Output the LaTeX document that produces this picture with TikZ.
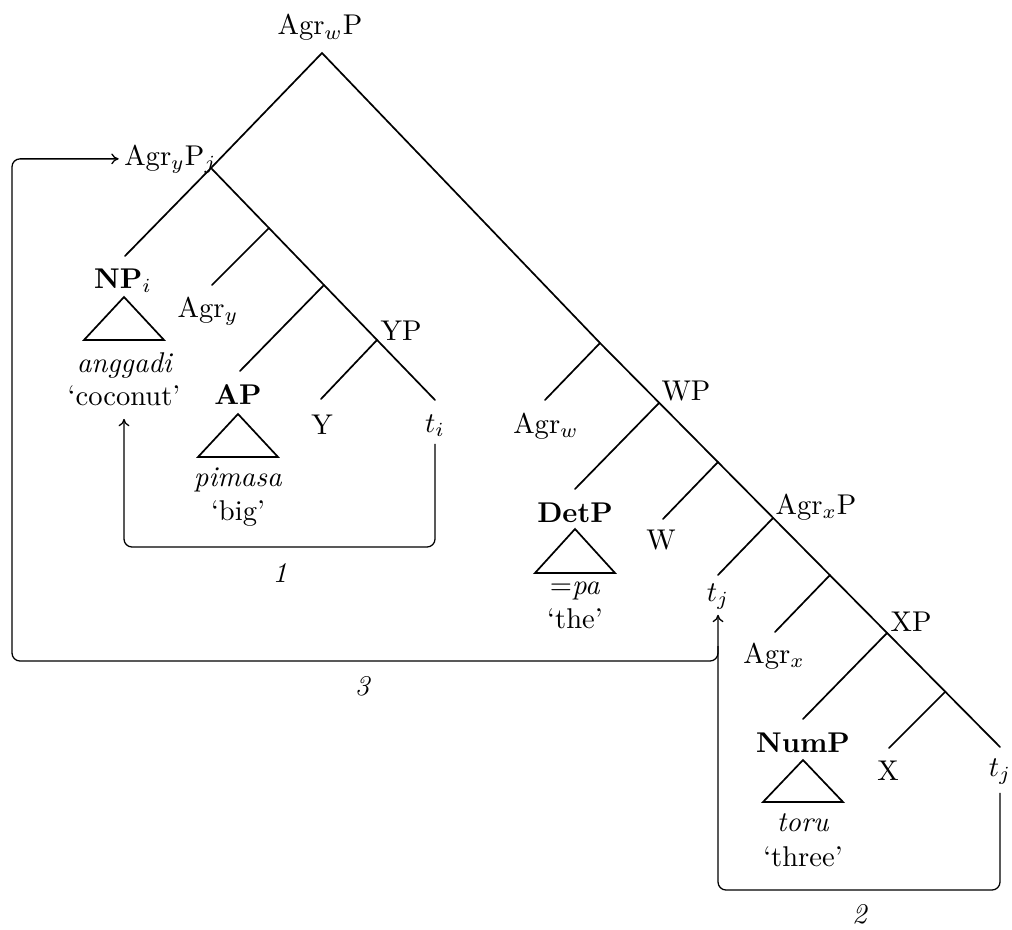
\documentclass[tikz,border=0pt]{standalone}
\usetikzlibrary{arrows.meta,calc}
\newcommand{\oq}{\textquoteleft}
\newcommand{\cq}{\textquoteright}
\begin{document}
\begin{tikzpicture}[x=0.35pt,y=-0.35pt,
  lab/.style={inner sep=0pt, anchor=base, font=\fontsize{10}{12}\selectfont},
  labw/.style={lab, anchor=base west},
  tree/.style={line width=0.6pt, line cap=round},
  roof/.style={line width=0.6pt, line join=miter},
  mv/.style={line width=0.45pt, rounded corners=2.8pt, -{To[length=2.6pt,width=3.8pt]}},
  mvline/.style={line width=0.45pt, rounded corners=2.8pt}]
\useasboundingbox (0,0) rectangle (1012,929);

% ---- branch points ----
\coordinate (R) at (322,53);
\coordinate (A1) at (211,168);
\coordinate (a2) at (269,228);
\coordinate (a3) at (324,285);
\coordinate (a4) at (377,340);
\coordinate (a5) at (435,400);
\coordinate (NPe) at (125,256);
\coordinate (Agrye) at (212,285);
\coordinate (APe) at (240,371);
\coordinate (Ye) at (321,399);

\coordinate (s5) at (600,343);
\coordinate (s6) at (659,403);
\coordinate (s7) at (718,462);
\coordinate (s8) at (773,518);
\coordinate (s9) at (830,575);
\coordinate (s10) at (887,633);
\coordinate (s11) at (945,692);
\coordinate (s12) at (1000,747);
\coordinate (e5) at (545,400);
\coordinate (e6) at (575,489);
\coordinate (e7) at (663,519);
\coordinate (e8) at (718,575);
\coordinate (e9) at (775,632);
\coordinate (e10) at (803,719);
\coordinate (e11) at (889,748);

% ---- tree lines ----
\draw[tree] (A1) -- (R) -- (s5) -- (s12);
\draw[tree] (A1) -- (NPe);
\draw[tree] (A1) -- (a5);
\draw[tree] (a2) -- (Agrye);
\draw[tree] (a3) -- (APe);
\draw[tree] (a4) -- (Ye);
\draw[tree] (s5) -- (e5);
\draw[tree] (s6) -- (e6);
\draw[tree] (s7) -- (e7);
\draw[tree] (s8) -- (e8);
\draw[tree] (s9) -- (e9);
\draw[tree] (s10) -- (e10);
\draw[tree] (s11) -- (e11);

% ---- labels ----
\node[lab] (AgrwP) at (320,35) {Agr$_w$P};
\node[lab, anchor=base east] (AgryP) at (217,165) {Agr$_y$P$_j$};

\node[lab] (NP) at (123,288) {\textbf{NP}$_i$};
\draw[roof] (124,297) -- ++(-40,43) -- ++(80,0) -- cycle;
\node[lab] (anggadi) at (125,372) {\textit{anggadi}};
\node[lab] (coconut) at (124,405) {\oq coconut\cq};

\node[lab] (Agry) at (208,317) {Agr$_y$};
\node[lab] (AP) at (238,404) {\textbf{AP}};
\draw[roof] (238,414) -- ++(-40,43) -- ++(80,0) -- cycle;
\node[lab] (pimasa) at (238,486) {\textit{pimasa}};
\node[lab] (big) at (238,520) {\oq big\cq};
\node[labw] (YP) at (380,340) {YP};
\node[lab] (Y) at (322,434) {Y};
\node[lab] (ti) at (435,432) {$t_i$};

\node[lab] (Agrw) at (546,433) {Agr$_w$};
\node[labw] (WP) at (661,400) {WP};
\node[lab] (DetP) at (575,522) {\textbf{DetP}};
\draw[roof] (575,529) -- ++(-40,44) -- ++(80,0) -- cycle;
\node[lab] (pa) at (575,594) {=\textit{pa}};
\node[lab] (the) at (575,628) {\oq the\cq};
\node[lab] (W) at (661,549) {W};
\node[labw] (AgrxP) at (775,514) {Agr$_x$P};
\node[lab] (tj1) at (718,601) {$t_j$};
\node[lab] (Agrx) at (774,663) {Agr$_x$};
\node[labw] (XP) at (890,631) {XP};
\node[lab] (NumP) at (803,752) {\textbf{NumP}};
\draw[roof] (803,760) -- ++(-40,42) -- ++(80,0) -- cycle;
\node[lab] (toru) at (803,831) {\textit{toru}};
\node[lab] (three) at (803,866) {\oq three\cq};
\node[lab] (X) at (888,780) {X};
\node[lab] (tj2) at (1000,776) {$t_j$};

\node[lab] (n1) at (280,582) {\textit{1}};
\node[lab] (n2) at (860,923) {\textit{2}};
\node[lab] (n3) at (363,695) {\textit{3}};

% ---- movement arrows ----
\coordinate (b1) at (coconut.south |- 0,547);
\draw[mv] ($(ti.south)+(0,7)$) |- (b1) -- ($(coconut.south)+(0,13)$);

\coordinate (b2) at (tj1.south |- 0,890);
\draw[mv] ($(tj2.south)+(0,8)$) |- (b2) -- ($(tj1.south)+(0,5)$);

\coordinate (c3) at (tj1.south |- 0,646);
\coordinate (c3b) at (12,661);
\draw[mv] (c3) |- (c3b) |- ($(AgryP.west)+(-5,0)$);
\end{tikzpicture}
\end{document}
